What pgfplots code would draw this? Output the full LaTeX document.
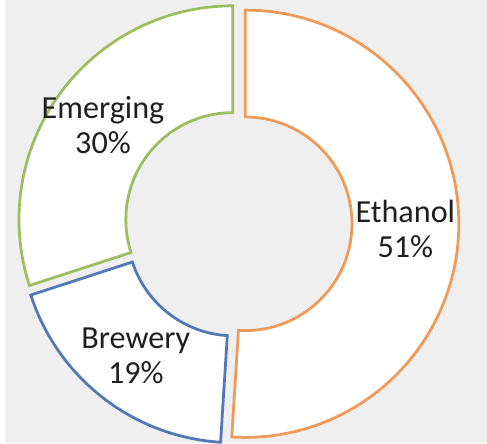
\documentclass[border=0pt]{standalone}
\usepackage{pgfplots}
\usepackage{pgfplotstable}
\pgfplotsset{compat=1.18}
\usepackage{fontspec}
\setmainfont{Carlito}
\definecolor{bg}{HTML}{EFEFEF}
\definecolor{col0}{HTML}{F09A5A}
\definecolor{col1}{HTML}{5079B6}
\definecolor{col2}{HTML}{9DBD60}

% share of each segment, clockwise from the top
\pgfplotstableread{
name share
Ethanol 51
Brewery 19
Emerging 30
}\shares

\begin{document}
% start, end and mid angles of each segment
\def\cum{0}
\pgfplotsforeachungrouped \i in {0,1,2}{%
  \pgfplotstablegetelem{\i}{share}\of\shares \let\v\pgfplotsretval
  \pgfmathsetmacro\a{90-3.6*\cum}%
  \pgfmathsetmacro\cum{\cum+\v}%
  \pgfmathsetmacro\b{90-3.6*\cum}%
  \pgfmathsetmacro\m{(\a+\b)/2}%
  \expandafter\xdef\csname sa\i\endcsname{\a}%
  \expandafter\xdef\csname sb\i\endcsname{\b}%
  \expandafter\xdef\csname sm\i\endcsname{\m}%
  \expandafter\xdef\csname pc\i\endcsname{\v}%
  \pgfplotstablegetelem{\i}{name}\of\shares
  \expandafter\xdef\csname nm\i\endcsname{\pgfplotsretval}%
}
\begin{tikzpicture}
\begin{axis}[
  x=1pt, y=1pt, scale only axis,
  xmin=0, xmax=487, ymin=0, ymax=448,
  axis line style={draw=none}, xtick=\empty, ytick=\empty,
  axis background/.style={fill=bg},
  clip=false]
\pgfplotsinvokeforeach{0,1,2}{
  \draw[line width=2.8pt, line join=miter, draw=col#1, fill=white,
        shift={(axis cs:235.5,222)}, shift={(\csname sm#1\endcsname:7pt)}]
    (\csname sa#1\endcsname:216pt)
    arc[start angle=\csname sa#1\endcsname, end angle=\csname sb#1\endcsname, radius=216pt]
    -- (\csname sb#1\endcsname:108pt)
    arc[start angle=\csname sb#1\endcsname, end angle=\csname sa#1\endcsname, radius=108pt]
    -- cycle;
  \node[font=\fontsize{32.5}{35}\selectfont, text=black!88, align=center,
        shift={(axis cs:235.5,222)}, shift={(\csname sm#1\endcsname:7pt)}]
    at (\csname sm#1\endcsname:162pt) {\csname nm#1\endcsname\\\csname pc#1\endcsname\%};
}
\end{axis}
\end{tikzpicture}
\end{document}
